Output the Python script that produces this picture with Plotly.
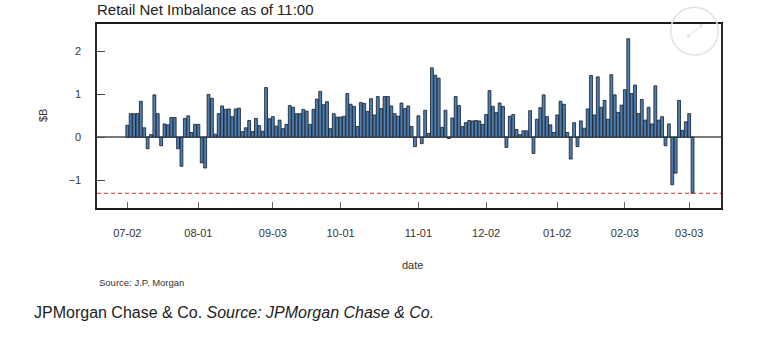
import pandas as pd
import plotly.graph_objects as go

# ---------------- data ----------------
start_date = "2024-07-02"
end_date = "2025-03-04"
market_holidays = ["2024-07-04", "2024-09-02", "2024-11-28", "2024-12-25",
                   "2025-01-01", "2025-01-09", "2025-01-20", "2025-02-17"]
dates = [d.strftime("%Y-%m-%d") for d in
         pd.bdate_range(start_date, end_date, freq="C", holidays=market_holidays)]

imbalance = [
    0.28, 0.55, 0.55, 0.55, 0.84, 0.22, -0.27, 0.06, 0.99, 0.55,
    -0.20, 0.31, 0.29, 0.46, 0.46, -0.27, -0.68, 0.44, 0.50, 0.11,
    0.30, 0.30, -0.60, -0.72, 1.00, 0.91, 0.07, 0.55, 0.73, 0.65,
    0.66, 0.48, 0.66, 0.68, 0.13, 0.22, 0.39, 0.13, 0.44, 0.27,
    0.14, 1.16, 0.43, 0.48, 0.26, 0.40, 0.20, 0.30, 0.74, 0.70,
    0.55, 0.55, 0.65, 0.61, 0.30, 0.65, 0.89, 1.07, 0.76, 0.83,
    0.20, 0.55, 0.47, 0.47, 0.49, 1.02, 0.77, 0.72, 0.25, 0.81,
    0.79, 0.60, 0.90, 0.52, 0.95, 0.67, 0.95, 0.95, 0.73, 0.55,
    0.49, 0.80, 0.67, 0.73, 0.25, -0.22, 0.50, -0.15, 0.63, 0.09,
    1.62, 1.45, 1.38, 0.23, 0.63, -0.03, 0.45, 0.95, 0.74, 0.25,
    0.34, 0.39, 0.38, 0.39, 0.38, 0.30, 0.53, 1.09, 0.72, 0.58,
    0.80, 0.72, -0.24, 0.49, 0.53, 0.18, 0.06, 0.15, 0.15, 0.62,
    -0.38, 0.42, 0.69, 0.99, 0.48, 0.29, 0.11, 0.52, 0.84, 0.77,
    0.11, -0.51, 0.34, -0.22, 0.38, 0.21, 0.66, 1.44, 0.52, 1.41,
    0.70, 0.86, 0.42, 1.46, 0.99, 0.58, 0.75, 1.11, 2.30, 1.02,
    1.22, 0.55, 0.88, 0.40, 0.70, 0.31, 1.20, 0.40, 0.48, -0.20,
    0.31, -1.11, -0.84, 0.86, 0.16, 0.36, 0.55, -1.31,
]

tick_dates = ["2024-07-02", "2024-08-01", "2024-09-03", "2024-10-01", "2024-11-01",
              "2024-12-02", "2025-01-02", "2025-02-03", "2025-03-03"]
tick_labels = ["07-02", "08-01", "09-03", "10-01", "11-01",
               "12-02", "01-02", "02-03", "03-03"]
y_ticks = [-1, 0, 1, 2]
threshold = -1.31

title_text = "Retail Net Imbalance as of 11:00"
y_title = "$B"
x_title = "date"
source_small = "Source: J.P. Morgan"
footer_html = "JPMorgan Chase &amp; Co. <i>Source: JPMorgan Chase &amp; Co.</i>"

# ---------------- figure ----------------
W, H = 778, 342
L, R, T, B = 97, 57, 24, 134
PW, PH = W - L - R, H - T - B


def px_x(px):
    return (px - L) / PW


def px_y(py):
    return (H - B - py) / PH


fig = go.Figure()
fig.add_trace(go.Bar(
    x=dates, y=imbalance,
    marker=dict(color="#4d7fb2", line=dict(color="#141b24", width=0.8)),
    hoverinfo="x+y",
))

font_family = "Liberation Sans, Arial, sans-serif"

fig.update_layout(
    width=W, height=H, autosize=False,
    margin=dict(l=L, r=R, t=T, b=B, pad=0),
    paper_bgcolor="white", plot_bgcolor="white",
    bargap=0.15, showlegend=False,
    font=dict(family=font_family, size=11, color="#333333"),
    title=dict(text=title_text, x=L / W, xanchor="left", xref="container",
               y=1 - 10 / H, yanchor="middle", yref="container",
               font=dict(size=15, color="#222222", family=font_family)),
    xaxis=dict(
        type="category", range=[-8.95, 175.4],
        tickmode="array", tickvals=tick_dates, ticktext=tick_labels,
        ticks="inside", ticklen=6, tickwidth=1, tickcolor="#666666",
        showline=True, linecolor="#1a1a1a", linewidth=2, mirror=True,
        showgrid=False, zeroline=False, ticklabelstandoff=14,
        tickfont=dict(size=11, color="#333333"),
    ),
    yaxis=dict(
        range=[-1.654, 2.645], tickmode="array", tickvals=y_ticks,
        ticks="inside", ticklen=8, tickwidth=1, tickcolor="#444444",
        showline=True, linecolor="#2a2a2a", linewidth=1.5, mirror=True,
        showgrid=False, zeroline=True, zerolinecolor="#7a7a7a", zerolinewidth=1.5,
        ticklabelstandoff=12, tickfont=dict(size=11, color="#333333"),
    ),
)

# red dashed reference line
fig.add_shape(type="line", xref="paper", yref="y", x0=0, x1=1,
              y0=threshold, y1=threshold,
              line=dict(color="#d42a2a", width=1, dash="4px,3px"))

# expand icon (decorative)
fig.add_shape(type="circle", xref="paper", yref="paper",
              x0=px_x(670.7), x1=px_x(718.3), y0=px_y(55), y1=px_y(7.3),
              line=dict(color="#e2e2e2", width=1.5))
fig.add_annotation(xref="paper", yref="paper", x=px_x(703), y=px_y(24),
                   ax=-18, ay=15, text="", showarrow=True, arrowside="end+start",
                   arrowhead=2, arrowsize=0.8, arrowwidth=1, arrowcolor="#e0e0e0")

fig.add_annotation(xref="paper", yref="paper", x=px_x(43), y=px_y(116),
                   xanchor="center", yanchor="middle",
                   text=y_title, textangle=-90, showarrow=False,
                   font=dict(size=11, color="#333333"))
fig.add_annotation(xref="paper", yref="paper", x=px_x(412), y=px_y(265),
                   xanchor="center", yanchor="middle",
                   text=x_title, showarrow=False,
                   font=dict(size=11, color="#333333"))
fig.add_annotation(xref="paper", yref="paper", x=px_x(97), y=px_y(282),
                   xanchor="left", yanchor="middle", text=source_small, showarrow=False,
                   font=dict(size=9.5, color="#333333"))
fig.add_annotation(xref="paper", yref="paper", x=px_x(32), y=px_y(312),
                   xanchor="left", yanchor="middle", text=footer_html, showarrow=False,
                   font=dict(size=16, color="#222222"))

fig.write_html("out.html")
